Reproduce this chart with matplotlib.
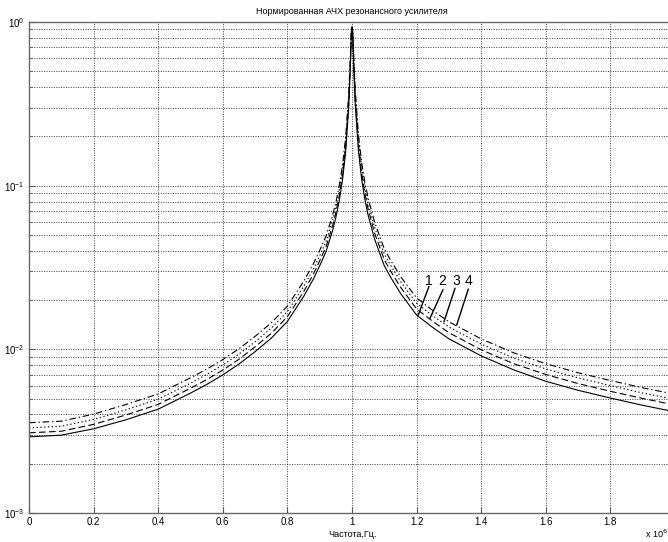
import matplotlib
matplotlib.use("Agg")
import matplotlib.pyplot as plt
from matplotlib.ticker import LogLocator, FixedLocator, NullFormatter

plt.rcParams['font.family'] = ['Liberation Sans', 'DejaVu Sans']

# frequency (x 10^6), shared by all four curves
freq = [0, 0.1, 0.2, 0.3, 0.4, 0.5, 0.55, 0.6, 0.65, 0.7, 0.75, 0.8, 0.85, 0.88,
        0.9, 0.92, 0.94, 0.95, 0.96, 0.97, 0.98, 0.99, 0.995, 0.998, 1.0, 1.002,
        1.005, 1.01, 1.02, 1.03, 1.04, 1.05, 1.07, 1.1, 1.12, 1.15, 1.2, 1.25,
        1.3, 1.4, 1.5, 1.6, 1.7, 1.8, 1.9, 2.0]

# normalised response, curve 1 (solid)
k1 = [0.00292, 0.00299, 0.00327, 0.00371, 0.00431, 0.00540, 0.00610, 0.00698,
      0.00813, 0.00968, 0.0117, 0.0148, 0.0210, 0.0268, 0.0324, 0.0398, 0.0533,
      0.0639, 0.0798, 0.106, 0.158, 0.305, 0.540, 0.847, 0.933, 0.855, 0.551,
      0.313, 0.163, 0.109, 0.0822, 0.0659, 0.0471, 0.0324, 0.0275, 0.0220,
      0.0162, 0.0136, 0.0116, 0.00912, 0.00750, 0.00638, 0.00562, 0.00504,
      0.00455, 0.00415]
# curve 2 (dashed)
k2 = [0.00309, 0.00316, 0.00348, 0.00397, 0.00461, 0.00578, 0.00653, 0.00747,
      0.00870, 0.01036, 0.01252, 0.01584, 0.02247, 0.0287, 0.0347, 0.0426, 0.0570,
      0.0684, 0.0855, 0.1135, 0.169, 0.324, 0.566, 0.864, 0.933, 0.873, 0.583,
      0.338, 0.1766, 0.1189, 0.0894, 0.0718, 0.0513, 0.0353, 0.0300, 0.0240,
      0.01766, 0.01482, 0.01264, 0.00994, 0.00818, 0.00702, 0.00618, 0.00554,
      0.00501, 0.00457]
# curve 3 (dotted)
k3 = [0.00331, 0.00339, 0.00373, 0.00427, 0.00496, 0.00621, 0.00702, 0.00803,
      0.00935, 0.01113, 0.01346, 0.01702, 0.02415, 0.0308, 0.0373, 0.0458, 0.0613,
      0.0734, 0.0916, 0.1216, 0.1811, 0.345, 0.593, 0.879, 0.933, 0.889, 0.615,
      0.363, 0.1914, 0.1288, 0.0970, 0.0780, 0.0556, 0.0382, 0.0325, 0.0260,
      0.01912, 0.01605, 0.01369, 0.01076, 0.00885, 0.00759, 0.00669, 0.00600,
      0.00541, 0.00494]
# curve 4 (dash-dot)
k4 = [0.00356, 0.00364, 0.00402, 0.00460, 0.00534, 0.00670, 0.00756, 0.00866,
      0.01008, 0.0120, 0.01451, 0.01835, 0.0260, 0.0332, 0.0402, 0.0494, 0.0661,
      0.0790, 0.0986, 0.1309, 0.1941, 0.368, 0.621, 0.893, 0.933, 0.902, 0.643,
      0.386, 0.205, 0.1384, 0.1042, 0.0838, 0.0598, 0.0411, 0.0349, 0.0279,
      0.0206, 0.01727, 0.01473, 0.01158, 0.00953, 0.00817, 0.00719, 0.00645,
      0.00582, 0.00531]

curve_labels = ['1', '2', '3', '4']
x_ticks = [0, 0.2, 0.4, 0.6, 0.8, 1, 1.2, 1.4, 1.6, 1.8, 2]
x_tick_labels = ['0', '0.2', '0.4', '0.6', '0.8', '1', '1.2', '1.4', '1.6', '1.8', '']

fig = plt.figure(figsize=(6.68, 5.42), dpi=100)
ax = fig.add_axes([29/668, 29/542, 646/668, 491/542])

ax.plot(freq, k1, '-', color='k', lw=0.8)
ax.plot(freq, k2, '--', color='k', lw=0.8, dashes=(6, 3))
ax.plot(freq, k3, ':', color='k', lw=0.8, dashes=(1.2, 2.2))
ax.plot(freq, k4, '-.', color='k', lw=0.8, dashes=(6, 2.5, 1.2, 2.5))

ax.set_yscale('log')
ax.set_xlim(0, 2)
ax.set_ylim(1e-3, 1)
ax.xaxis.set_major_locator(FixedLocator(x_ticks))
ax.set_xticklabels(x_tick_labels)
ax.yaxis.set_major_locator(LogLocator(base=10, numticks=10))
ax.yaxis.set_minor_locator(LogLocator(base=10, subs=range(2, 10), numticks=10))
ax.yaxis.set_minor_formatter(NullFormatter())

ax.grid(True, which='major', color='k', linestyle=(0, (1.5, 2)), lw=0.5)
ax.grid(True, which='minor', axis='y', color='k', linestyle=(0, (1.5, 2)), lw=0.5)
ax.tick_params(which='both', direction='in', labelsize=7, color='#555555')
ax.tick_params(which='major', length=4, pad=3)
ax.tick_params(which='minor', length=2)
for s in ax.spines.values():
    s.set_color('#666666')
    s.set_linewidth(1.0)

ax.set_title('Нормированная АЧХ резонансного усилителя', fontsize=6.5, pad=6)
ax.set_xlabel('Частота,Гц.', fontsize=6.5, labelpad=2)
fig.text(645/668, 1 - 538/542, 'x 10$^{6}$', fontsize=6.5)

# curve numbers with leader lines
text_x = [1.238, 1.280, 1.322, 1.362]
lead = [((1.238, 0.02415), (1.205, 0.0162)),
        ((1.2815, 0.0231), (1.2415, 0.0155)),
        ((1.3189, 0.0236), (1.2848, 0.01477)),
        ((1.360, 0.0233), (1.3241, 0.01409))]
for lab, tx, (p0, p1) in zip(curve_labels, text_x, lead):
    ax.text(tx, 0.0262, lab, fontsize=10, ha='center', va='center')
    ax.plot([p0[0], p1[0]], [p0[1], p1[1]], color='k', lw=1.0)

fig.savefig('out.png', dpi=100)
